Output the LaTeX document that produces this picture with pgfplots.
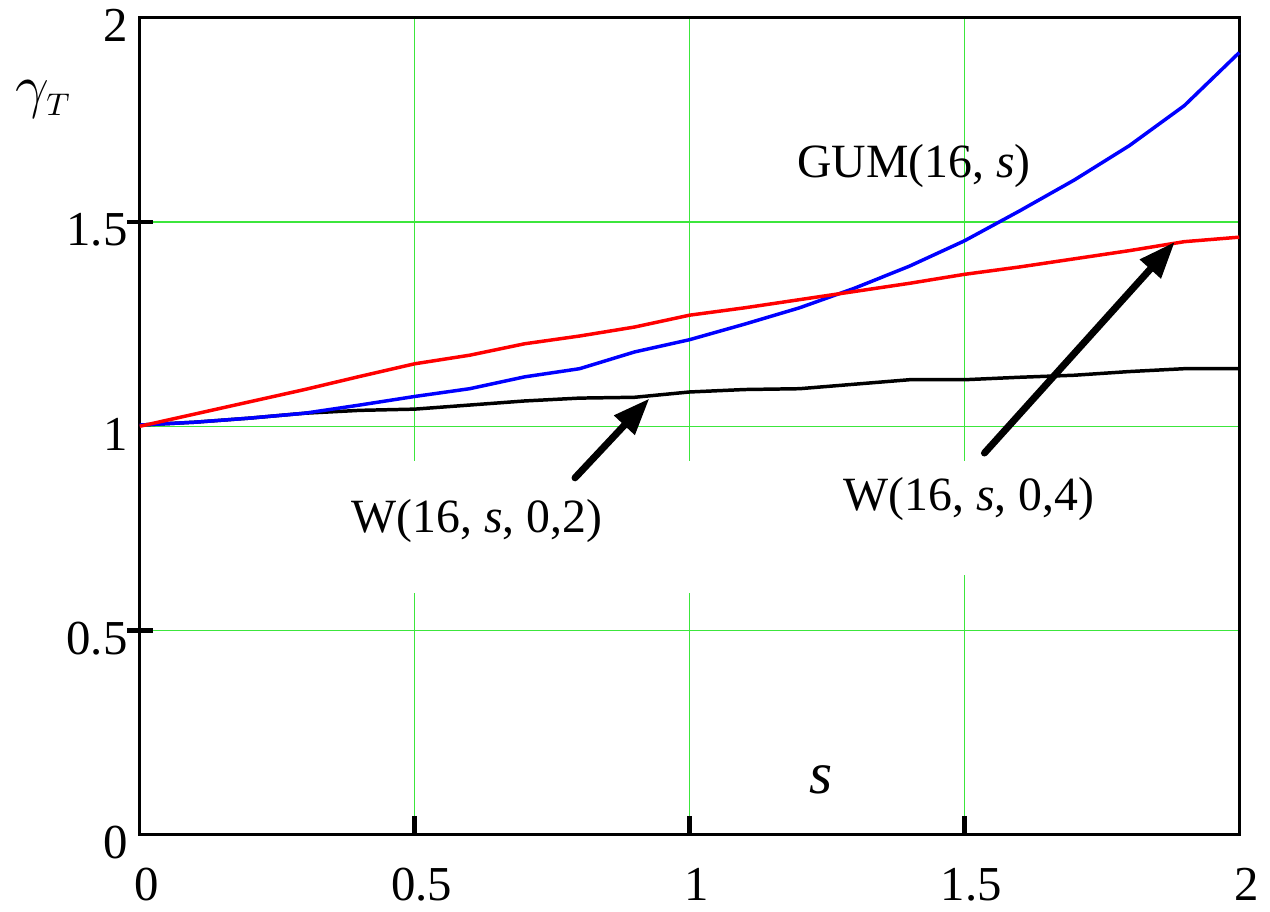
\documentclass[border=0pt]{standalone}
\usepackage{fontspec}
\setmainfont{Liberation Serif}
\usepackage{pgfplots}
\pgfplotsset{compat=1.18}
\usetikzlibrary{arrows.meta,calc}
\definecolor{gridgreen}{RGB}{60,230,60}

\pgfplotstableread{
s y
0.0 1.000
0.1 1.030
0.2 1.060
0.3 1.090
0.4 1.122
0.5 1.153
0.6 1.174
0.7 1.202
0.8 1.221
0.9 1.243
1.0 1.272
1.1 1.290
1.2 1.310
1.3 1.330
1.4 1.350
1.5 1.372
1.6 1.390
1.7 1.410
1.8 1.430
1.9 1.452
2.0 1.463
}\redW

\pgfplotstableread{
s y
0.0 1.003
0.1 1.010
0.2 1.020
0.3 1.032
0.4 1.052
0.5 1.073
0.6 1.092
0.7 1.121
0.8 1.141
0.9 1.182
1.0 1.212
1.1 1.250
1.2 1.290
1.3 1.338
1.4 1.392
1.5 1.454
1.6 1.527
1.7 1.603
1.8 1.687
1.9 1.785
2.0 1.915
}\gum

\pgfplotstableread{
s y
0.0 1.003
0.1 1.010
0.2 1.020
0.3 1.032
0.4 1.039
0.5 1.042
0.6 1.052
0.7 1.062
0.8 1.069
0.9 1.071
1.0 1.084
1.1 1.090
1.2 1.092
1.3 1.103
1.4 1.114
1.5 1.114
1.6 1.120
1.7 1.125
1.8 1.134
1.9 1.141
2.0 1.141
}\blackW

\begin{document}
\begin{tikzpicture}
\begin{axis}[
 scale only axis,
 width=11.09cm, height=8.24cm,
 xmin=0, xmax=2, ymin=0, ymax=2,
 xtick={0,0.5,1,1.5,2}, ytick={0,0.5,1,1.5,2},
 xticklabels={0,0.5,1,1.5,2}, yticklabels={0,0.5,1,1.5,2},
 major tick length=0pt,
 xtick pos=bottom, ytick pos=left,
 extra x ticks={0.5,1,1.5}, extra x tick labels={,,},
 extra y ticks={0.5,1.5}, extra y tick labels={,},
 extra x tick style={grid=none, major tick length=0.19cm, tick align=inside, tick style={line width=1.3pt, black}},
 extra y tick style={grid=none, major tick length=0.26cm, tick align=center, tick style={line width=1.3pt, black}},
 grid=major, major grid style={gridgreen, line width=0.35pt},
 axis line style={line width=0.9pt},
 clip=false,
 ticklabel style={font=\fontsize{14}{16}\selectfont},
 xticklabel style={inner sep=0.5pt, yshift=-0.31cm, xshift=0.07cm},
 yticklabel style={yshift=-0.08cm},
]
\coordinate (bl) at (rel axis cs:0,0);
\coordinate (tr) at (rel axis cs:1,1);
% breaks in the vertical grid lines
\fill[white] (axis cs:0.49,0.592) rectangle (axis cs:0.51,0.915);
\fill[white] (axis cs:0.99,0.592) rectangle (axis cs:1.01,0.915);
\fill[white] (axis cs:1.49,0.636) rectangle (axis cs:1.51,0.915);

\addplot[black, line width=1pt] table[x=s,y=y] {\blackW};
\addplot[blue, line width=1pt] table[x=s,y=y] {\gum};
\addplot[red, line width=1pt] table[x=s,y=y] {\redW};

\draw[line width=2pt, line cap=round, -{Triangle[length=0.37cm, width=0.27cm]}]
  (axis cs:0.7917,0.8738) -- (axis cs:0.927,1.068);
\draw[line width=2pt, line cap=round, -{Triangle[length=0.37cm, width=0.27cm]}]
  (axis cs:1.5365,0.9345) -- (axis cs:1.8828,1.4515);

\node[anchor=base, font=\fontsize{13.7}{16}\selectfont] at (axis cs:0.613,0.740) {W(16, \textit{s}, 0,2)};
\node[anchor=base, font=\fontsize{13.7}{16}\selectfont] at (axis cs:1.508,0.794) {W(16, \textit{s}, 0,4)};
\node[anchor=base, font=\fontsize{13.7}{16}\selectfont] at (axis cs:1.408,1.609) {GUM(16, \textit{s})};
\node[anchor=base, font=\fontsize{17}{20}\selectfont] at (axis cs:1.239,0.102) {\textit{s}};
\node[anchor=base west, inner sep=0pt] at (axis cs:-0.227,1.782) {\fontsize{18}{20}\selectfont$\gamma_{\scriptscriptstyle T}$};
\end{axis}
\pgfresetboundingbox
\path ($(bl)+(-1.41cm,-0.77cm)$) rectangle ($(tr)+(0.31cm,0.18cm)$);
\end{tikzpicture}
\end{document}
